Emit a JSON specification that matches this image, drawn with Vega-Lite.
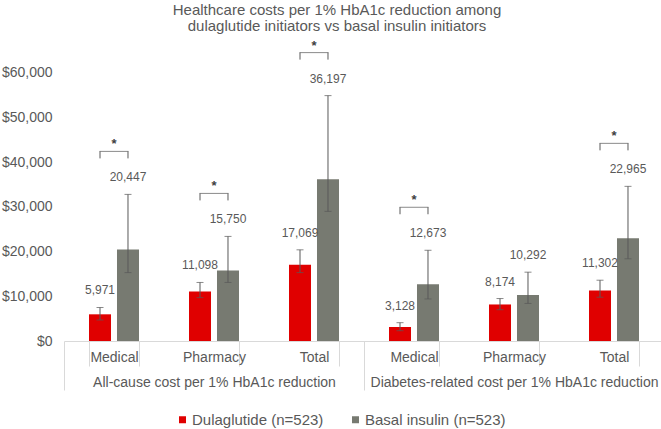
{
  "$schema": "https://vega.github.io/schema/vega-lite/v6.json",
  "width": 600,
  "height": 295,
  "autosize": {"type": "none"},
  "padding": {"left": 64, "top": 46, "right": 0, "bottom": 88},
  "config": {"view": {"stroke": null}, "font": "Liberation Sans"},
  "title": {
    "text": ["Healthcare costs per 1% HbA1c reduction among", "dulaglutide initiators vs basal insulin initiators"],
    "fontSize": 15, "font": "Liberation Sans", "fontWeight": "normal", "color": "#595959",
    "anchor": "middle", "dx": -27, "lineHeight": 16, "offset": 6
  },
  "layer": [
    {
      "data": {"values": [
        {"key": "All-cause|Medical", "series": "Dulaglutide (n=523)", "value": 5971, "lower": 4700, "upper": 7500, "sig": true},
        {"key": "All-cause|Medical", "series": "Basal insulin (n=523)", "value": 20447, "lower": 15300, "upper": 32800, "sig": true},
        {"key": "All-cause|Pharmacy", "series": "Dulaglutide (n=523)", "value": 11098, "lower": 9700, "upper": 13100, "sig": true},
        {"key": "All-cause|Pharmacy", "series": "Basal insulin (n=523)", "value": 15750, "lower": 13100, "upper": 23400, "sig": true},
        {"key": "All-cause|Total", "series": "Dulaglutide (n=523)", "value": 17069, "lower": 15300, "upper": 20400, "sig": true},
        {"key": "All-cause|Total", "series": "Basal insulin (n=523)", "value": 36197, "lower": 29000, "upper": 54900, "sig": true},
        {"key": "Diabetes|Medical", "series": "Dulaglutide (n=523)", "value": 3128, "lower": 2300, "upper": 4100, "sig": true},
        {"key": "Diabetes|Medical", "series": "Basal insulin (n=523)", "value": 12673, "lower": 9400, "upper": 20300, "sig": true},
        {"key": "Diabetes|Pharmacy", "series": "Dulaglutide (n=523)", "value": 8174, "lower": 7000, "upper": 9500, "sig": false},
        {"key": "Diabetes|Pharmacy", "series": "Basal insulin (n=523)", "value": 10292, "lower": 8400, "upper": 15400, "sig": false},
        {"key": "Diabetes|Total", "series": "Dulaglutide (n=523)", "value": 11302, "lower": 9800, "upper": 13600, "sig": true},
        {"key": "Diabetes|Total", "series": "Basal insulin (n=523)", "value": 22965, "lower": 18400, "upper": 34600, "sig": true}
      ]},
      "encoding": {
        "x": {
          "field": "key", "type": "nominal",
          "scale": {"domain": ["All-cause|Medical", "All-cause|Pharmacy", "All-cause|Total", "Diabetes|Medical", "Diabetes|Pharmacy", "Diabetes|Total"], "paddingInner": 0.5, "paddingOuter": 0.25},
          "axis": {
            "orient": "bottom", "title": null, "labelAngle": 0, "labelExpr": "split(datum.label, '|')[1]",
            "domainColor": "#d9d9d9", "tickColor": "#d9d9d9", "tickSize": 25, "tickBand": "extent",
            "labelFontSize": 14, "labelColor": "#595959", "labelPadding": -16, "labelFont": "Liberation Sans"
          }
        },
        "xOffset": {"field": "series", "type": "nominal", "scale": {"domain": ["Dulaglutide (n=523)", "Basal insulin (n=523)"], "paddingInner": 0.214, "paddingOuter": 0}},
        "y": {
          "field": "value", "type": "quantitative",
          "scale": {"domain": [0, 66000], "nice": false},
          "axis": {
            "title": null, "values": [0, 10000, 20000, 30000, 40000, 50000, 60000], "format": "$,.0f",
            "domain": false, "ticks": false, "grid": false, "labelPadding": 12,
            "labelFontSize": 14, "labelColor": "#595959", "labelFont": "Liberation Sans"
          }
        }
      },
      "layer": [
        {
          "mark": {"type": "bar"},
          "encoding": {
            "color": {
              "field": "series", "type": "nominal",
              "scale": {"domain": ["Dulaglutide (n=523)", "Basal insulin (n=523)"], "range": ["#E00000", "#777A71"]},
              "legend": {
                "title": null, "orient": "none", "legendX": 111, "legendY": 366, "direction": "horizontal",
                "symbolType": "square", "symbolSize": 49, "symbolStrokeWidth": 0, "labelFontSize": 15,
                "labelColor": "#595959", "labelOffset": 2, "columnPadding": 24, "padding": 0, "labelFont": "Liberation Sans"
              }
            }
          }
        },
        {
          "mark": {"type": "rule", "color": "#595959", "strokeWidth": 1},
          "encoding": {"y": {"field": "lower", "type": "quantitative"}, "y2": {"field": "upper"}}
        },
        {
          "mark": {"type": "tick", "color": "#595959", "size": 7, "thickness": 1},
          "encoding": {"y": {"field": "upper", "type": "quantitative"}}
        },
        {
          "mark": {"type": "tick", "color": "#595959", "size": 7, "thickness": 1},
          "encoding": {"y": {"field": "lower", "type": "quantitative"}}
        },
        {
          "mark": {"type": "text", "dy": -17, "fontSize": 12, "color": "#595959", "font": "Liberation Sans"},
          "encoding": {"y": {"field": "upper", "type": "quantitative"}, "text": {"field": "value", "type": "quantitative", "format": ",.0f"}}
        },
        {
          "transform": [{"filter": "datum.sig"}, {"joinaggregate": [{"op": "max", "field": "upper", "as": "top"}], "groupby": ["key"]}],
          "mark": {"type": "rule", "color": "#595959", "strokeWidth": 1, "yOffset": -43, "y2Offset": -36},
          "encoding": {"y": {"field": "top", "type": "quantitative"}, "y2": {"field": "top"}}
        },
        {
          "transform": [{"filter": "datum.sig"}, {"joinaggregate": [{"op": "max", "field": "upper", "as": "top"}], "groupby": ["key"]}, {"filter": "datum.series === 'Dulaglutide (n=523)'"}],
          "mark": {"type": "tick", "color": "#595959", "size": 29, "thickness": 1, "yOffset": -43},
          "encoding": {"xOffset": null, "y": {"field": "top", "type": "quantitative"}}
        },
        {
          "transform": [{"filter": "datum.sig"}, {"joinaggregate": [{"op": "max", "field": "upper", "as": "top"}], "groupby": ["key"]}, {"filter": "datum.series === 'Dulaglutide (n=523)'"}],
          "mark": {"type": "text", "text": "*", "dy": -50, "fontSize": 13, "fontWeight": "bold", "color": "#404040"},
          "encoding": {"xOffset": null, "y": {"field": "top", "type": "quantitative"}}
        }
      ]
    },
    {
      "data": {"values": [
        {"group": "All-cause cost per 1% HbA1c reduction"},
        {"group": "Diabetes-related cost per 1% HbA1c reduction"}
      ]},
      "mark": {"type": "text", "text": ""},
      "encoding": {
        "x": {
          "field": "group", "type": "nominal",
          "scale": {"paddingInner": 0, "paddingOuter": 0},
          "axis": {
            "orient": "bottom", "title": null, "labelAngle": 0, "domain": false, "tickColor": "#d9d9d9", "tickSize": 49, "tickBand": "extent",
            "labelFontSize": 14, "labelColor": "#595959", "labelPadding": -15, "labelLimit": 400, "labelFont": "Liberation Sans"
          }
        }
      }
    }
  ],
  "resolve": {"scale": {"x": "independent"}}
}
